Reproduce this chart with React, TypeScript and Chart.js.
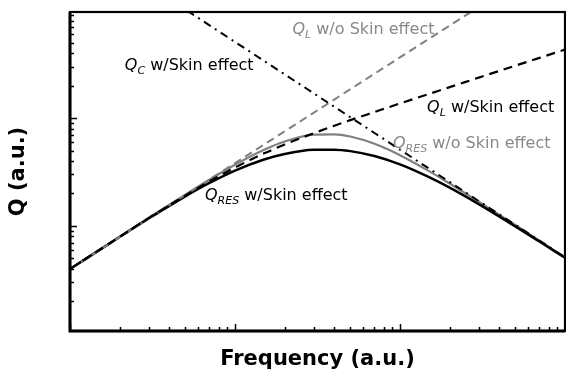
import React, { useEffect, useRef } from 'react';
import { Chart, registerables } from 'chart.js';

Chart.register(...registerables);

// Frequency samples (a.u.) used by the curved series
const freq = [1, 2, 3, 5, 7, 10, 15, 20, 30, 40, 50, 70, 100, 150, 200, 300, 500, 700, 1000];
// Q_RES without skin effect (grey solid)
const qResNoSkin = [3.98, 7.94, 11.9, 19.5, 26.8, 36.9, 50.8, 60.7, 70.2, 70.8, 67.5, 57.8, 45.3, 32.2, 24.7, 16.8, 10.2, 7.27, 5.1];
// Q_RES with skin effect (black solid)
const qResSkin = [3.97, 7.88, 11.7, 18.8, 25.0, 32.6, 41.3, 46.5, 50.8, 51.0, 49.4, 44.5, 37.2, 28.3, 22.6, 15.9, 9.88, 7.15, 5.05];
// Q_L with skin effect (black dashed)
const qLSkin = [3.97, 7.91, 11.8, 19.1, 25.9, 34.8, 47.1, 56.9, 72.5, 85.0, 95.8, 114, 137, 168, 194, 238, 307, 363, 434];
// Straight lines: end points
const lineFreq = [1, 1000];
const qLNoSkin = [3.98, 3520];
const qCSkin = [5105, 5.1];

// Axis ranges
const xRange = [1, 1000];
const yRange = [1.055, 968];

// Tick values (inward ticks, no labels)
const xMajorTicks = [1, 10, 100, 1000];
const xMinorTicks = [2, 3, 4, 5, 6, 7, 8, 9, 20, 30, 40, 50, 60, 70, 80, 90, 200, 300, 400, 500, 600, 700, 800, 900];
const yMajorTicks = [10, 100];
const yMinorTicks = [2, 3, 4, 5, 6, 7, 8, 9, 20, 30, 40, 50, 60, 70, 80, 90, 200, 300, 400, 500, 600, 700, 800, 900];

// Series labels
const labelSubs = ['C', 'L', 'L', 'RES', 'RES'];
const labelRest = [' w/Skin effect', ' w/o Skin effect', ' w/Skin effect', ' w/o Skin effect', ' w/Skin effect'];
const labelX = [2.15, 22.3, 146, 90.7, 6.58];
const labelY = [282, 611, 115, 53.2, 17.5];
const labelColors = ['#000000', '#888888', '#000000', '#888888', '#000000'];

const GREY = '#808080';
const FONT = "'DejaVu Sans', Verdana, sans-serif";
const LABEL_SIZE = 16;

export default function App() {
  const ref = useRef<HTMLCanvasElement>(null);

  useEffect(() => {
    const canvas = ref.current;
    if (!canvas) return;
    const pts = (xs: number[], ys: number[]) => xs.map((x, i) => ({ x, y: ys[i] }));

    const overlay = {
      id: 'overlay',
      afterDatasetsDraw(chart: any) {
        const { ctx, chartArea: a, scales } = chart;
        const xs = scales.x;
        const ys = scales.y;
        ctx.save();
        // labels
        for (let i = 0; i < labelSubs.length; i++) {
          let px = xs.getPixelForValue(labelX[i]);
          const py = ys.getPixelForValue(labelY[i]);
          ctx.fillStyle = labelColors[i];
          ctx.textAlign = 'left';
          ctx.textBaseline = 'alphabetic';
          ctx.font = `italic ${LABEL_SIZE}px ${FONT}`;
          ctx.fillText('Q', px, py);
          px += ctx.measureText('Q').width;
          ctx.font = `italic ${Math.round(LABEL_SIZE * 0.7)}px ${FONT}`;
          ctx.fillText(labelSubs[i], px, py + 4);
          px += ctx.measureText(labelSubs[i]).width;
          ctx.font = `${LABEL_SIZE}px ${FONT}`;
          ctx.fillText(labelRest[i], px, py);
        }
        // inward ticks
        ctx.strokeStyle = '#000';
        ctx.lineWidth = 1.5;
        ctx.beginPath();
        const xt = (vals: number[], len: number) => {
          for (const v of vals) {
            const p = Math.round(xs.getPixelForValue(v)) + 0.5;
            ctx.moveTo(p, a.bottom);
            ctx.lineTo(p, a.bottom - len);
          }
        };
        const yt = (vals: number[], len: number) => {
          for (const v of vals) {
            const p = Math.round(ys.getPixelForValue(v)) + 0.5;
            ctx.moveTo(a.left, p);
            ctx.lineTo(a.left + len, p);
          }
        };
        xt(xMajorTicks, 7);
        xt(xMinorTicks, 4);
        yt(yMajorTicks, 7);
        yt(yMinorTicks, 4);
        ctx.stroke();
        // frame
        ctx.lineWidth = 2.2;
        ctx.strokeRect(a.left, a.top, a.right - a.left, a.bottom - a.top);
        ctx.lineWidth = 3;
        ctx.beginPath();
        ctx.moveTo(a.left, a.top);
        ctx.lineTo(a.left, a.bottom);
        ctx.lineTo(a.right, a.bottom);
        ctx.stroke();
        ctx.restore();
      },
    };

    const chart = new Chart(canvas, {
      type: 'line',
      data: {
        datasets: [
          {
            label: 'Q_C w/Skin effect',
            data: pts(lineFreq, qCSkin),
            borderColor: '#000',
            borderWidth: 2,
            borderDash: [8, 5, 2, 5],
            tension: 0,
          },
          {
            label: 'Q_L w/Skin effect',
            data: pts(freq, qLSkin),
            borderColor: '#000',
            borderWidth: 2.2,
            borderDash: [9, 6],
            cubicInterpolationMode: 'monotone',
          },
          {
            label: 'Q_L w/o Skin effect',
            data: pts(lineFreq, qLNoSkin),
            borderColor: GREY,
            borderWidth: 2,
            borderDash: [8, 5],
            tension: 0,
          },
          {
            label: 'Q_RES w/Skin effect',
            data: pts(freq, qResSkin),
            borderColor: '#000',
            borderWidth: 2.5,
            cubicInterpolationMode: 'monotone',
          },
          {
            label: 'Q_RES w/o Skin effect',
            data: pts(freq, qResNoSkin),
            borderColor: GREY,
            borderWidth: 2.2,
            cubicInterpolationMode: 'monotone',
          },
        ],
      },
      options: {
        responsive: false,
        animation: false,
        layout: { padding: { left: 0, top: 12, right: 1, bottom: 0 } },
        elements: { point: { radius: 0 }, line: { fill: false } },
        plugins: { legend: { display: false }, tooltip: { enabled: false } },
        scales: {
          x: {
            type: 'logarithmic',
            min: xRange[0],
            max: xRange[1],
            ticks: { display: false },
            grid: { display: false, drawTicks: false },
            border: { display: false },
            title: {
              display: true,
              text: 'Frequency (a.u.)',
              color: '#000',
              font: { family: FONT, size: 21, weight: 'bold' },
              padding: { top: 16.4, bottom: 10.4 },
            },
            afterFit: (s: any) => {
              s.height = 52;
            },
          },
          y: {
            type: 'logarithmic',
            min: yRange[0],
            max: yRange[1],
            ticks: { display: false },
            grid: { display: false, drawTicks: false },
            border: { display: false },
            title: {
              display: true,
              text: 'Q (a.u.)',
              color: '#000',
              font: { family: FONT, size: 21, weight: 'bold' },
              padding: { top: 6.4, bottom: 38.4 },
            },
            afterFit: (s: any) => {
              s.width = 70;
            },
          },
        },
      },
      plugins: [overlay],
    } as any);

    return () => chart.destroy();
  }, []);

  return (
    <div style={{ position: 'fixed', left: 0, top: 0, width: 566, height: 383, background: '#fff' }}>
      <canvas ref={ref} width={566} height={383} style={{ display: 'block' }} />
    </div>
  );
}
